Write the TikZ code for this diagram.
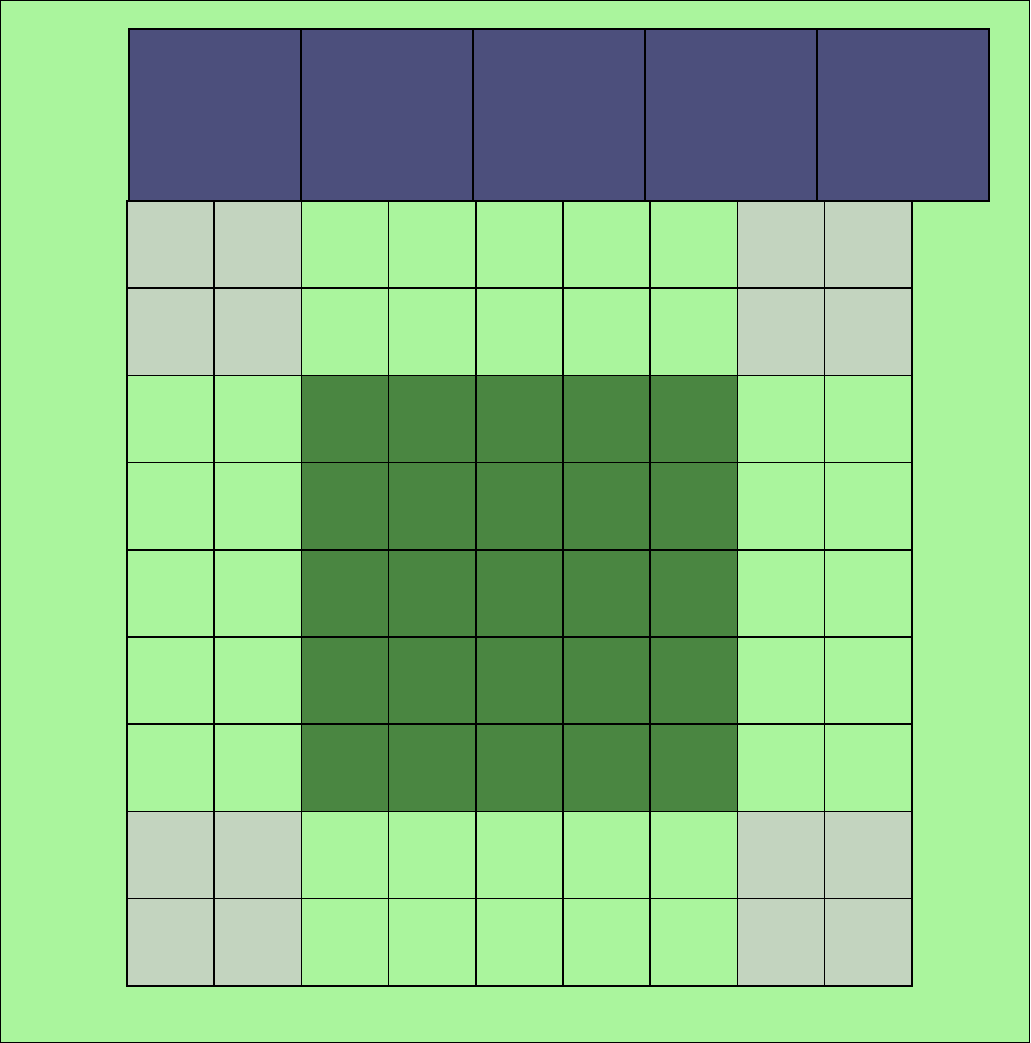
\documentclass[tikz,border=0pt]{standalone}
\definecolor{bgg}{HTML}{AAF59D}
\definecolor{blu}{HTML}{4C4F7C}
\definecolor{gry}{HTML}{C3D4BF}
\definecolor{dkg}{HTML}{4A8641}
\tikzset{
  topbox/.style={fill=blu,draw=black,line width=1.3pt},
  cellbox/.style={draw=black,line width=1.6pt}
}
\begin{document}
\begin{tikzpicture}[x=1pt,y=-1pt]
\useasboundingbox (0,0) rectangle (1030,1043);
\draw[fill=bgg,draw=black,line width=1.2pt] (0.6,0.6) rectangle (1029.4,1042.4);
\foreach \i in {0,...,4}{
  \path[topbox] ({129+172*\i},29) rectangle ({129+172*(\i+1)},201);
}
\foreach \r in {0,...,8}{
  \foreach \c in {0,...,8}{
    \pgfmathsetmacro{\cx}{127+87.2*\c}
    \pgfmathsetmacro{\cy}{201+87.2*\r}
    \def\col{bgg}
    \ifnum\r<2 \ifnum\c<2 \def\col{gry}\fi \ifnum\c>6 \def\col{gry}\fi\fi
    \ifnum\r>6 \ifnum\c<2 \def\col{gry}\fi \ifnum\c>6 \def\col{gry}\fi\fi
    \ifnum\r>1 \ifnum\r<7 \ifnum\c>1 \ifnum\c<7 \def\col{dkg}\fi\fi\fi\fi
    \path[cellbox,fill=\col] (\cx,\cy) rectangle ++(87.2,87.2);
  }
}
\end{tikzpicture}
\end{document}
